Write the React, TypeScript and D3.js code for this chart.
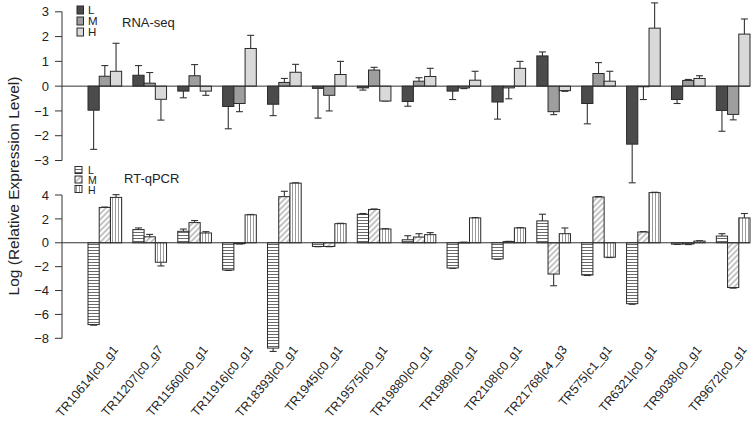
import React from "react";
import * as d3 from "d3";

const genes = [
  "TR10614|c0_g1", "TR11207|c0_g7", "TR11560|c0_g1", "TR11916|c0_g1", "TR18393|c0_g1",
  "TR1945|c0_g1", "TR19575|c0_g1", "TR19880|c0_g1", "TR1989|c0_g1", "TR2108|c0_g1",
  "TR21768|c4_g3", "TR575|c1_g1", "TR6321|c0_g1", "TR9038|c0_g1", "TR9672|c0_g1",
];
const levels = ["L", "M", "H"];

const rnaL = [-0.97, 0.44, -0.2, -0.82, -0.73, -0.09, -0.07, -0.62, -0.2, -0.64, 1.22, -0.7, -2.34, -0.54, -0.98];
const rnaLErr = [1.58, 0.39, 0.27, 0.9, 0.46, 1.2, 0.09, 0.19, 0.34, 0.69, 0.16, 0.82, 1.56, 0.16, 0.84];
const rnaM = [0.4, 0.12, 0.42, -0.7, 0.15, -0.37, 0.65, 0.2, -0.07, -0.07, -1.03, 0.51, -0.02, 0.23, -1.14];
const rnaMErr = [0.43, 0.43, 0.45, 0.33, 0.16, 0.63, 0.11, 0.14, 0.03, 0.44, 0.12, 0.44, 0.52, 0.04, 0.22];
const rnaH = [0.6, -0.53, -0.2, 1.52, 0.56, 0.47, -0.6, 0.39, 0.24, 0.72, -0.18, 0.2, 2.34, 0.31, 2.1];
const rnaHErr = [1.13, 0.84, 0.17, 0.53, 0.32, 0.53, 0.0, 0.33, 0.36, 0.28, 0.03, 0.4, 1.02, 0.11, 0.61];

const qL = [-6.85, 1.1, 0.96, -2.28, -8.82, -0.31, 2.39, 0.25, -2.11, -1.35, 1.83, -2.7, -5.1, -0.11, 0.56];
const qLErr = [0.05, 0.14, 0.19, 0.04, 0.28, 0.02, 0.06, 0.34, 0.03, 0.03, 0.56, 0.04, 0.05, 0.03, 0.2];
const qM = [2.96, 0.5, 1.69, -0.08, 3.86, -0.31, 2.79, 0.48, 0.03, 0.1, -2.62, 3.83, 0.9, -0.1, -3.75];
const qMErr = [0.03, 0.2, 0.17, 0.02, 0.45, 0.02, 0.04, 0.28, 0.02, 0.02, 0.98, 0.04, 0.03, 0.05, 0.05];
const qH = [3.8, -1.63, 0.82, 2.34, 4.99, 1.6, 1.15, 0.68, 2.08, 1.24, 0.76, -1.21, 4.2, 0.14, 2.08];
const qHErr = [0.23, 0.31, 0.11, 0.03, 0.03, 0.03, 0.03, 0.17, 0.03, 0.03, 0.48, 0.03, 0.03, 0.03, 0.37];

const topTicks = [3, 2, 1, 0, -1, -2, -3];
const bottomTicks = [4, 2, 0, -2, -4, -6, -8];

const W = 753, H = 423;
const FONT = "Liberation Sans, Arial, Helvetica, sans-serif";

const x0 = d3.scaleBand<string>().domain(genes).range([88, 750]).paddingInner(0.25).paddingOuter(0);
const x1 = d3.scaleBand<string>().domain(levels).range([0, x0.bandwidth()]);

const yTop = d3.scaleLinear().domain([-3, 3]).range([160.5, 11.8]);
const yBot = d3.scaleLinear().domain([-8, 4]).range([338.3, 195]);

const topFills: Record<string, string> = { L: "#4b4b4b", M: "#9e9e9e", H: "#d9d9d9" };
const botFills: Record<string, string> = { L: "url(#patL)", M: "url(#patM)", H: "url(#patH)" };

type Series = { key: string; vals: number[]; errs: number[] };

function Panel({ y, series, fills, ticks }: { y: d3.ScaleLinear<number, number>; series: Series[]; fills: Record<string, string>; ticks: number[] }) {
  const axisX = 62;
  const capW = 3.5;
  return (
    <g>
      <line x1={axisX} x2={axisX} y1={y(ticks[0])} y2={y(ticks[ticks.length - 1])} stroke="#333" strokeWidth={1} />
      {ticks.map((t) => (
        <g key={t}>
          <line x1={axisX - 7} x2={axisX} y1={y(t)} y2={y(t)} stroke="#333" strokeWidth={1} />
          <text x={axisX - 13} y={y(t)} dy="0.36em" textAnchor="end" fontSize={13} fill="#222" fontFamily={FONT}>
            {t < 0 ? "\u2212" + Math.abs(t) : String(t)}
          </text>
        </g>
      ))}
      {series.map((s) =>
        genes.map((g, i) => {
          const v = s.vals[i];
          const e = s.errs[i];
          const bx = (x0(g) as number) + (x1(s.key) as number);
          const bw = x1.bandwidth();
          const cx = bx + bw / 2;
          const top = y(Math.max(0, v));
          const bot = y(Math.min(0, v));
          const tip = v >= 0 ? v + e : v - e;
          return (
            <g key={s.key + g}>
              <line x1={cx} x2={cx} y1={y(v)} y2={y(tip)} stroke="#333" strokeWidth={1.1} />
              <line x1={cx - capW} x2={cx + capW} y1={y(tip)} y2={y(tip)} stroke="#333" strokeWidth={1.1} />
              <rect x={bx} y={top} width={bw} height={Math.max(0.6, bot - top)} fill={fills[s.key]} stroke="#2a2a2a" strokeWidth={1} />
            </g>
          );
        })
      )}
      <line x1={axisX} x2={750} y1={y(0)} y2={y(0)} stroke="#333" strokeWidth={1} />
    </g>
  );
}

export default function App() {
  const topSeries: Series[] = [
    { key: "L", vals: rnaL, errs: rnaLErr },
    { key: "M", vals: rnaM, errs: rnaMErr },
    { key: "H", vals: rnaH, errs: rnaHErr },
  ];
  const botSeries: Series[] = [
    { key: "L", vals: qL, errs: qLErr },
    { key: "M", vals: qM, errs: qMErr },
    { key: "H", vals: qH, errs: qHErr },
  ];
  return (
    <svg width={W} height={H} style={{ position: "absolute", left: 0, top: 0, background: "#fff" }} fontFamily={FONT}>
      <defs>
        <pattern id="patL" patternUnits="userSpaceOnUse" width={6} height={3}>
          <rect width={6} height={3} fill="#fff" />
          <line x1={0} x2={6} y1={1.5} y2={1.5} stroke="#6a6a6a" strokeWidth={1} />
        </pattern>
        <pattern id="patM" patternUnits="userSpaceOnUse" width={4} height={4} patternTransform="rotate(45)">
          <rect width={4} height={4} fill="#fff" />
          <line x1={2} x2={2} y1={0} y2={4} stroke="#8a8a8a" strokeWidth={1} />
        </pattern>
        <pattern id="patH" patternUnits="userSpaceOnUse" width={3} height={6}>
          <rect width={3} height={6} fill="#fff" />
          <line x1={1.5} x2={1.5} y1={0} y2={6} stroke="#9a9a9a" strokeWidth={1} />
        </pattern>
      </defs>
      <rect width={W} height={H} fill="#fff" />

      <Panel y={yTop} series={topSeries} fills={topFills} ticks={topTicks} />
      <Panel y={yBot} series={botSeries} fills={botFills} ticks={bottomTicks} />

      {levels.map((k, i) => (
        <g key={"tl" + k}>
          <rect x={77} y={6 + i * 11} width={6.5} height={8} fill={topFills[k]} stroke="#2a2a2a" strokeWidth={1} />
          <text x={88} y={14 + i * 11} fontSize={11.5} fill="#222">{k}</text>
        </g>
      ))}
      <text x={122} y={27} fontSize={13} fill="#222">RNA-seq</text>

      {levels.map((k, i) => (
        <g key={"bl" + k}>
          <rect x={75} y={166.5 + i * 9.5} width={7} height={7} fill={botFills[k]} stroke="#2a2a2a" strokeWidth={1} />
          <text x={88} y={173.5 + i * 10} fontSize={10.5} fill="#222">{k}</text>
        </g>
      ))}
      <text x={124} y={183} fontSize={13} fill="#222">RT-qPCR</text>

      <text transform="translate(19,186) rotate(-90)" textAnchor="middle" fontSize={15.5} fill="#222">
        Log (Relative Expression Level)
      </text>

      {genes.map((g) => {
        const cx = (x0(g) as number) + x0.bandwidth() / 2;
        return (
          <text key={"xl" + g} transform={`translate(${cx + 14},${350}) rotate(-50)`} textAnchor="end" fontSize={12.5} fill="#222">
            {g}
          </text>
        );
      })}
    </svg>
  );
}
